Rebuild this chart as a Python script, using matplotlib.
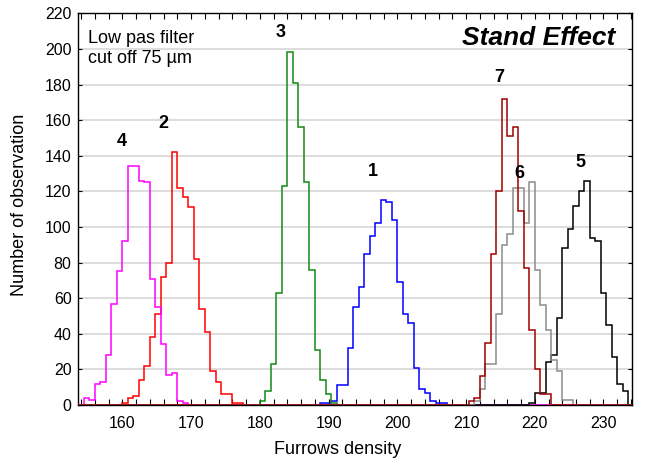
import numpy as np
import matplotlib
matplotlib.use("Agg")
import matplotlib.pyplot as plt

plt.rcParams['font.family'] = ['Liberation Sans', 'DejaVu Sans']

# histogram bins of furrows density
bin_start = 153.6
bin_width = 0.8
n_bins = 101

# counts per stand: index of first non-empty bin + counts
first_1 = 44
counts_1 = [1, 1, 2, 11, 11, 32, 55, 66, 85, 95, 102, 115, 114, 104, 69, 51, 46, 21, 9, 7, 2, 1, 1]
first_2 = 8
counts_2 = [1, 4, 5, 14, 22, 38, 51, 72, 80, 142, 122, 117, 111, 82, 54, 41, 19, 13, 6, 6, 1, 1]
first_3 = 33
counts_3 = [2, 8, 23, 63, 123, 198, 181, 156, 125, 76, 31, 14, 6, 1]
first_4 = 1
counts_4 = [4, 3, 12, 13, 28, 57, 75, 92, 134, 134, 126, 125, 71, 55, 34, 17, 18, 2, 1]
first_5 = 82
counts_5 = [1, 7, 7, 24, 28, 49, 88, 99, 112, 120, 126, 94, 92, 63, 45, 27, 12, 8]
first_6 = 72
counts_6 = [2, 9, 23, 23, 51, 90, 96, 122, 122, 102, 125, 76, 56, 42, 25, 19, 3, 3]
first_7 = 71
counts_7 = [2, 4, 16, 35, 85, 120, 172, 151, 156, 109, 77, 42, 20, 6, 6]

stands = ['1', '2', '3', '4', '5', '6', '7']
colors = ['#0000ff', '#ff0000', '#138a13', '#ff00ff', '#000000', '#8c8c8c', '#a00000']
label_xy = [(196.4, 131), (165.9, 158), (183.0, 209), (159.9, 148),
            (226.6, 136), (217.7, 130), (214.9, 184)]

firsts = [first_1, first_2, first_3, first_4, first_5, first_6, first_7]
counts = [counts_1, counts_2, counts_3, counts_4, counts_5, counts_6, counts_7]

edges = bin_start + bin_width * np.arange(n_bins + 1)

fig = plt.figure(figsize=(6.46, 4.63), dpi=100)
ax = fig.add_axes([0.1215, 0.1253, 0.8563, 0.846])

for first, c, col in zip(firsts, counts, colors):
    full = np.zeros(n_bins)
    full[first:first + len(c)] = c
    ax.stairs(full, edges, color=col, lw=1.1, zorder=3)

for name, (x, y) in zip(stands, label_xy):
    ax.text(x, y, name, fontsize=13, fontweight='bold', ha='center', va='center', zorder=4)

ax.set_xlim(153.6, 234.1)
ax.set_ylim(0, 220)
ax.set_yticks(np.arange(0, 221, 20))
ax.set_xticks(np.arange(160, 231, 10))
ax.set_xticks(np.arange(154, 235, 2), minor=True)
ax.yaxis.grid(True, color='#dadada', lw=1.3, zorder=0)
ax.set_axisbelow(True)

ax.tick_params(axis='x', which='both', direction='in', top=True, length=4, width=0.8,
               labelsize=11.5, pad=8)
ax.tick_params(axis='y', which='both', direction='in', right=True, length=3, width=0.8,
               labelsize=11.5, pad=5)
for s in ax.spines.values():
    s.set_linewidth(1.0)
    s.set_color('black')

ax.text(0.0172, 0.924, 'Low pas filter', transform=ax.transAxes, fontsize=13, va='baseline')
ax.text(0.0172, 0.873, 'cut off 75 µm', transform=ax.transAxes, fontsize=13, va='baseline')
ax.text(0.9698, 0.919, 'Stand Effect', transform=ax.transAxes, fontsize=19,
        fontweight='bold', fontstyle='italic', ha='right', va='baseline')

fig.text(338 / 646, 1 - 450 / 463, 'Furrows density', fontsize=13, ha='center', va='center')
fig.text(20 / 646, 1 - 205 / 463, 'Number of observation', fontsize=13, rotation=90,
         ha='center', va='center')

fig.savefig('out.png', dpi=100)
